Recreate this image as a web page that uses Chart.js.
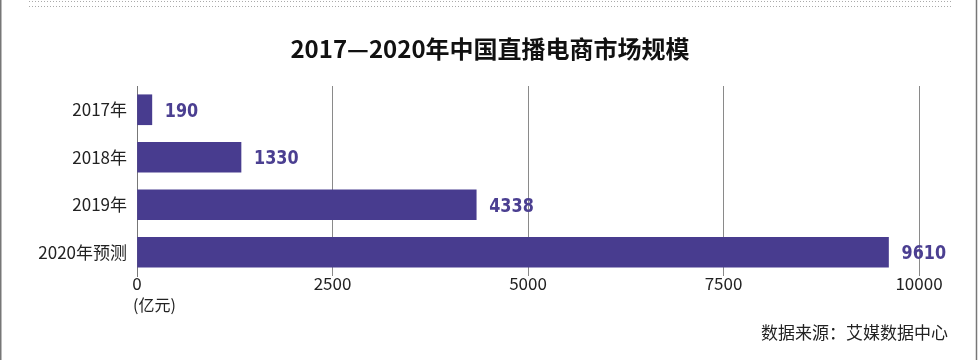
<!DOCTYPE html>
<html><head><meta charset="utf-8">
<script src="https://cdn.jsdelivr.net/npm/chart.js@4/dist/chart.umd.min.js"></script>
<style>html,body{margin:0;padding:0;background:#fff;}#wrap{width:979px;height:360px;position:relative;}</style>
</head><body><div id="wrap"><canvas id="c" width="979" height="360"></canvas></div>
<script>
const categories = ["2017年", "2018年", "2019年", "2020年预测"];
const values = [190, 1330, 4338, 9610];
const xTicks = [0, 2500, 5000, 7500, 10000];
const titleText = "2017—2020年中国直播电商市场规模";
const unitText = "(亿元)";
const sourceText = "数据来源：艾媒数据中心";

const CJK = '"Noto Sans CJK SC", "Noto Sans", sans-serif';
const BAR = '#483c8f';

const extras = {
  id: 'extras',
  beforeDraw(chart) {
    const ctx = chart.ctx;
    ctx.save();
    ctx.fillStyle = '#fff';
    ctx.fillRect(0, 0, chart.width, chart.height);
    ctx.strokeStyle = '#777';
    ctx.lineWidth = 1.5;
    ctx.beginPath(); ctx.moveTo(0.75, 0); ctx.lineTo(0.75, 360); ctx.stroke();
    ctx.beginPath(); ctx.moveTo(976.5, 0); ctx.lineTo(976.5, 360); ctx.stroke();
    ctx.strokeStyle = '#aaa';
    ctx.lineWidth = 1;
    ctx.setLineDash([1, 2]);
    [1.5, 6.5].forEach(y => { ctx.beginPath(); ctx.moveTo(29, y); ctx.lineTo(953, y); ctx.stroke(); });
    ctx.setLineDash([]);
    ctx.restore();
  },
  afterDraw(chart) {
    const ctx = chart.ctx;
    ctx.save();
    ctx.fillStyle = '#111';
    ctx.font = 'bold 24px ' + CJK;
    ctx.textAlign = 'center'; ctx.textBaseline = 'middle';
    ctx.fillText(titleText, 490, 49);
    ctx.fillStyle = '#222';
    ctx.font = '16px ' + CJK;
    ctx.textAlign = 'left';
    ctx.fillText(unitText, 133, 305);
    ctx.font = '17px ' + CJK;
    ctx.textAlign = 'right';
    ctx.fillText(sourceText, 948, 333);
    // value labels (condensed heavy)
    const meta = chart.getDatasetMeta(0);
    ctx.fillStyle = '#4b3f91';
    ctx.font = 'bold 20px "DejaVu Sans", sans-serif';
    ctx.textAlign = 'left';
    meta.data.forEach((bar, i) => {
      ctx.save();
      ctx.translate(bar.x + 13, bar.y + 2);
      ctx.scale(0.8, 1);
      ctx.fillText(String(values[i]), 0, 0);
      ctx.restore();
    });
    ctx.restore();
  }
};

new Chart(document.getElementById('c'), {
  type: 'bar',
  data: {
    labels: categories,
    datasets: [{
      data: values,
      backgroundColor: BAR,
      borderWidth: 0,
      barThickness: 30
    }]
  },
  options: {
    indexAxis: 'y',
    responsive: false,
    animation: false,
    devicePixelRatio: 1,
    layout: { padding: { top: 86, right: 60, left: 0, bottom: 0 } },
    plugins: { legend: { display: false }, tooltip: { enabled: false }, title: { display: false } },
    scales: {
      x: {
        min: 0, max: 10000,
        afterBuildTicks(s) { s.ticks = xTicks.map(v => ({ value: v })); },
        afterFit(s) { s.height = 84; },
        grid: { color: '#8a8a8a', lineWidth: 1, drawTicks: false },
        border: { display: false },
        ticks: { color: '#222', font: { size: 17, family: CJK }, padding: -3, maxRotation: 0,
                 callback: (v) => String(v) }
      },
      y: {
        afterFit(s) { s.width = 137; },
        grid: { display: false, drawTicks: false },
        border: { display: true, color: '#777', width: 1 },
        ticks: { color: '#222', font: { size: 17, family: CJK }, padding: 10 }
      }
    }
  },
  plugins: [extras]
});
</script></body></html>
